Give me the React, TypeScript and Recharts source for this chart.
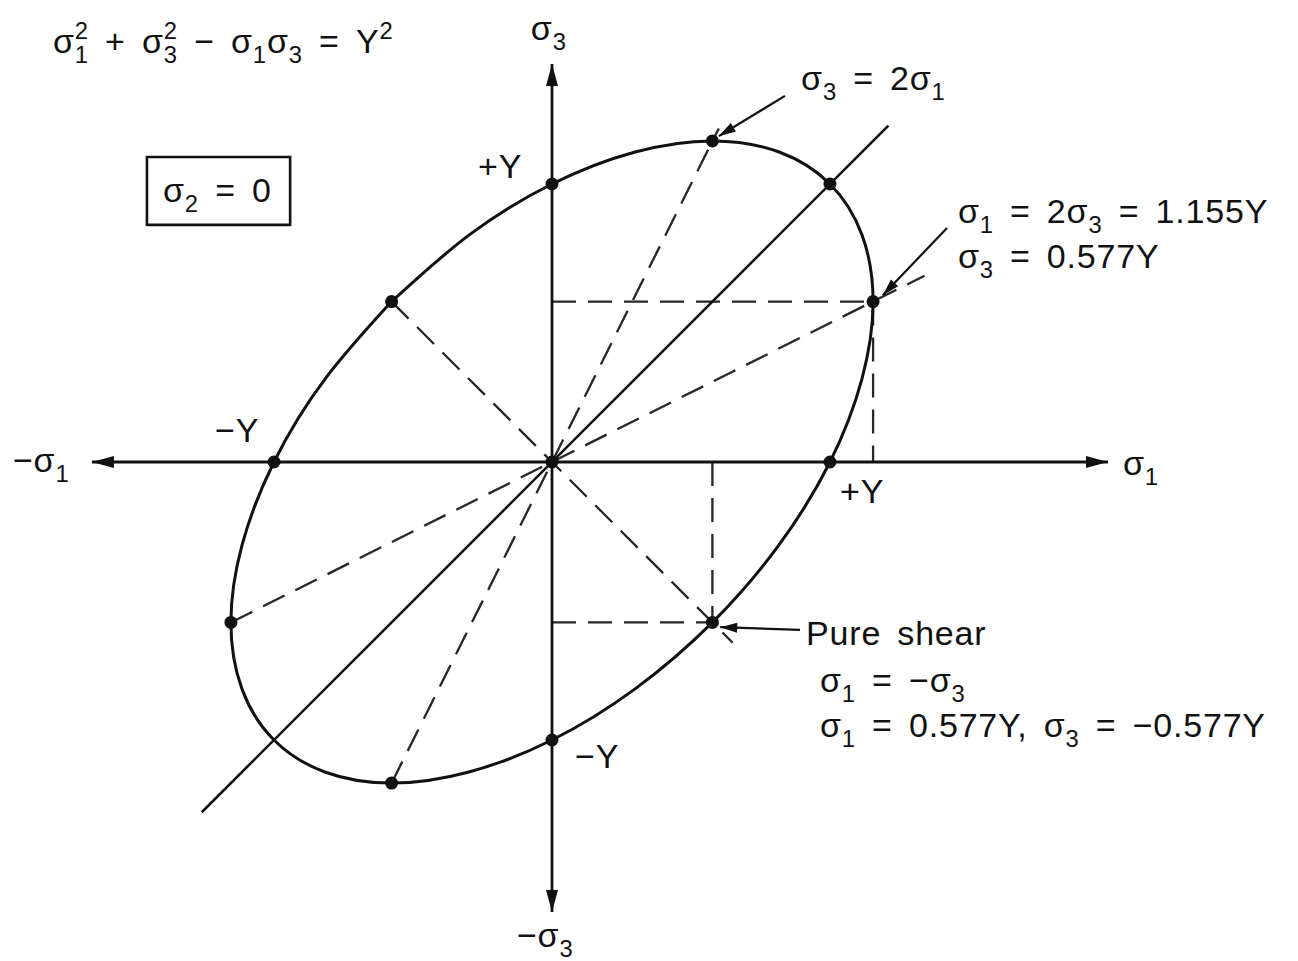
import React from "react";
import {
  ComposedChart,
  Scatter,
  XAxis,
  YAxis,
  ReferenceLine,
  ReferenceDot,
  ReferenceArea,
} from "recharts";

// stresses in units of Y: [sigma1, sigma3]
const ellipsePts: [number, number][] = [
  [-0.577, 0.577], [-0.816, 0.299], [-1.0, 0], [-1.115, -0.299], [-1.155, -0.577],
  [-1.115, -0.817], [-1.0, -1.0], [-0.817, -1.115], [-0.577, -1.155], [-0.299, -1.115],
  [0, -1.0], [0.299, -0.816], [0.577, -0.577], [0.816, -0.299], [1.0, 0],
  [1.115, 0.299], [1.155, 0.577], [1.115, 0.817], [1.0, 1.0], [0.817, 1.115],
  [0.577, 1.155], [0.299, 1.115], [0, 1.0], [-0.299, 0.816], [-0.577, 0.577],
];

const markedPts: [number, number][] = [
  [0, 0], [0, 1], [1, 1], [0.577, 1.155], [1.155, 0.577], [-0.577, 0.577],
  [-1, 0], [1, 0], [-1.155, -0.577], [-0.577, -1.155], [0, -1], [0.577, -0.577],
];

const solidDiagonal: [number, number][] = [[-1.26, -1.26], [1.21, 1.21]];

const dashedRays: [number, number][][] = [
  [[-1.155, -0.577], [1.34, 0.67]],
  [[-0.577, -1.155], [0.6, 1.2]],
  [[-0.577, 0.577], [0.65, -0.65]],
];

const projections: [number, number][][] = [
  [[0, 0.577], [1.155, 0.577]],
  [[1.155, 0.577], [1.155, 0]],
  [[0, -0.577], [0.577, -0.577]],
  [[0.577, 0], [0.577, -0.577]],
];

const sigma1Axis: [number, number][] = [[-1.655, 0], [2.0, 0]];
const sigma3Axis: [number, number][] = [[0, -1.619], [0, 1.432]];

const pointerArrows: [number, number][][] = [
  [[0.838, 1.317], [0.6, 1.172]],
  [[1.421, 0.842], [1.19, 0.6]],
  [[0.892, -0.604], [0.605, -0.594]],
];

const W = 1298;
const H = 961;
const UNIT = 278;
const OX = 552;
const OY = 462;
const INK = "#111";
const DASH = "#262626";
const FONT = "'Liberation Sans', Arial, sans-serif";

type Part = { t: string; sub?: boolean; sup?: boolean; back?: number };

const toXY = (pts: [number, number][]) => pts.map(([x, y]) => ({ x, y }));

function Rich({ x, y, parts, size = 34 }: { x: number; y: number; parts: Part[]; size?: number }) {
  let shift = 0;
  return (
    <text
      x={x}
      y={y}
      fontSize={size}
      fontFamily={FONT}
      fill={INK}
      letterSpacing={0.8}
      wordSpacing={6}
      style={{ whiteSpace: "pre" }}
    >
      {parts.map((p, i) => {
        const target = p.sub ? size * 0.3 : p.sup ? -size * 0.4 : 0;
        const dy = target - shift;
        shift = target;
        return (
          <tspan key={i} dy={dy} dx={p.back ? -p.back : undefined} fontSize={p.sub || p.sup ? size * 0.7 : size}>
            {p.t}
          </tspan>
        );
      })}
    </text>
  );
}

const s = (t: string): Part => ({ t });
const sub = (t: string, back?: number): Part => ({ t, sub: true, back });
const sup = (t: string): Part => ({ t, sup: true });

const labels: { at: [number, number]; parts: Part[] }[] = [
  { at: [-1.795, 1.471], parts: [s("σ"), sup("2"), sub("1", 14), s(" + σ"), sup("2"), sub("3", 14), s(" − σ"), sub("1"), s("σ"), sub("3"), s(" = Y"), sup("2")] },
  { at: [-1.399, 0.935], parts: [s("σ"), sub("2"), s(" = 0")] },
  { at: [-0.076, 1.518], parts: [s("σ"), sub("3")] },
  { at: [-0.266, 1.022], parts: [s("+Y")] },
  { at: [-1.212, 0.072], parts: [s("−Y")] },
  { at: [-1.939, -0.036], parts: [s("−σ"), sub("1")] },
  { at: [2.054, -0.047], parts: [s("σ"), sub("1")] },
  { at: [1.036, -0.147], parts: [s("+Y")] },
  { at: [0.083, -1.101], parts: [s("−Y")] },
  { at: [-0.126, -1.745], parts: [s("−σ"), sub("3")] },
  { at: [0.896, 1.338], parts: [s("σ"), sub("3"), s(" = 2σ"), sub("1")] },
  { at: [1.46, 0.86], parts: [s("σ"), sub("1"), s(" = 2σ"), sub("3"), s(" = 1.155Y")] },
  { at: [1.46, 0.698], parts: [s("σ"), sub("3"), s(" = 0.577Y")] },
  { at: [0.914, -0.658], parts: [s("Pure shear")] },
  { at: [0.964, -0.827], parts: [s("σ"), sub("1"), s(" = −σ"), sub("3")] },
  { at: [0.964, -0.989], parts: [s("σ"), sub("1"), s(" = 0.577Y, σ"), sub("3"), s(" = −0.577Y")] },
];

function head(x: number, y: number, ang: number, len: number, half: number) {
  const bx = x - len * Math.cos(ang);
  const by = y - len * Math.sin(ang);
  const nx = -Math.sin(ang) * half;
  const ny = Math.cos(ang) * half;
  return <polygon points={`${x},${y} ${bx + nx},${by + ny} ${bx - nx},${by - ny}`} fill={INK} />;
}

const arrowShape = (both: boolean, len: number, half: number, width: number) => (p: any) => {
  const { x1, y1, x2, y2 } = p;
  const ang = Math.atan2(y2 - y1, x2 - x1);
  return (
    <g>
      <line x1={x1} y1={y1} x2={x2} y2={y2} stroke={INK} strokeWidth={width} />
      {head(x2, y2, ang, len, half)}
      {both && head(x1, y1, ang + Math.PI, len, half)}
    </g>
  );
};

const seg = (pts: [number, number][]) => pts.map(([x, y]) => ({ x, y }));

export default function App() {
  return (
    <div style={{ position: "absolute", left: 0, top: 0, background: "#fff" }}>
      <ComposedChart width={W} height={H} margin={{ top: 0, right: 0, bottom: 0, left: 0 }}>
        <XAxis type="number" dataKey="x" hide allowDataOverflow domain={[-OX / UNIT, (W - OX) / UNIT]} />
        <YAxis type="number" dataKey="y" hide allowDataOverflow domain={[-(H - OY) / UNIT, OY / UNIT]} />

        {projections.map((p, i) => (
          <ReferenceLine key={`p${i}`} segment={seg(p)} stroke={DASH} strokeWidth={2.3} strokeDasharray="24 12" />
        ))}
        {dashedRays.map((p, i) => (
          <ReferenceLine key={`d${i}`} segment={seg(p)} stroke={DASH} strokeWidth={2.3} strokeDasharray="24 12" />
        ))}
        <ReferenceLine segment={seg(solidDiagonal)} stroke={INK} strokeWidth={2.6} />
        <ReferenceLine segment={seg(sigma1Axis)} shape={arrowShape(true, 22, 6, 2.8)} />
        <ReferenceLine segment={seg(sigma3Axis)} shape={arrowShape(true, 22, 6, 2.8)} />
        {pointerArrows.map((p, i) => (
          <ReferenceLine key={`a${i}`} segment={seg(p)} shape={arrowShape(false, 17, 5, 2.2)} />
        ))}

        <ReferenceArea x1={-1.457} x2={-0.942} y1={0.853} y2={1.097} fill="none" stroke={INK} strokeWidth={2.6} />

        <Scatter
          data={toXY(ellipsePts)}
          isAnimationActive={false}
          line={{ stroke: INK, strokeWidth: 3 }}
          lineJointType="natural"
          shape={() => <g />}
        />
        <Scatter
          data={toXY(markedPts)}
          isAnimationActive={false}
          shape={(p: any) => <circle cx={p.cx} cy={p.cy} r={6.5} fill={INK} />}
        />

        {labels.map((l, i) => (
          <ReferenceDot
            key={`l${i}`}
            x={l.at[0]}
            y={l.at[1]}
            r={0}
            shape={(p: any) => <Rich x={p.cx} y={p.cy} parts={l.parts} />}
          />
        ))}
      </ComposedChart>
    </div>
  );
}
